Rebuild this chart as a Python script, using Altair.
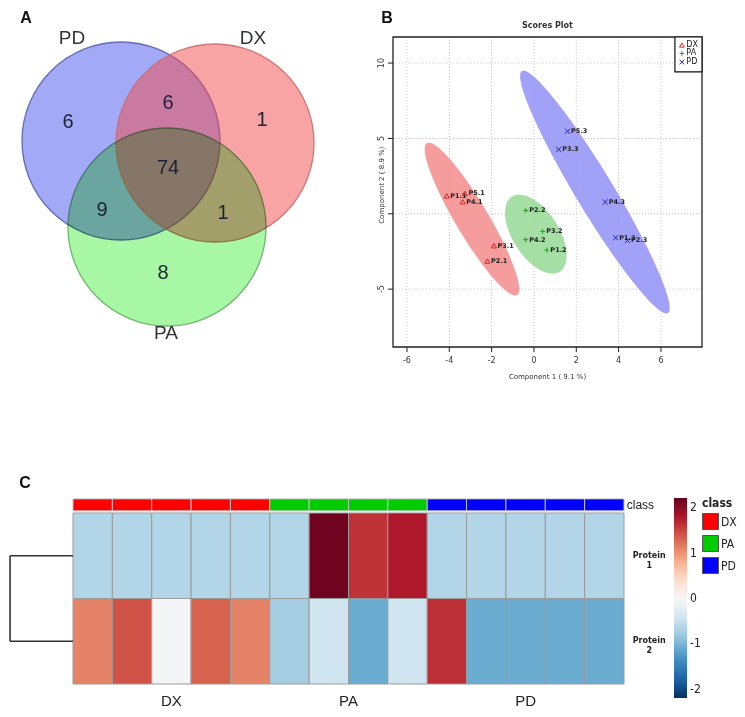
import altair as alt
import numpy as np
import pandas as pd

# ---------------- Panel A : Venn diagram ----------------
venn_sets = ["PD", "DX", "PA"]
venn_cx = [1.01, 1.95, 1.47]
venn_cy = [1.00, 1.02, 1.86]
venn_label_x = [0.52, 2.33, 1.46]
venn_label_y = [-0.03, -0.03, 2.92]
venn_counts = ["6", "6", "1", "74", "9", "1", "8"]
venn_count_x = [0.48, 1.48, 2.42, 1.48, 0.82, 2.03, 1.43]
venn_count_y = [0.81, 0.62, 0.79, 1.27, 1.69, 1.72, 2.32]

# ---------------- Panel B : PLS-DA scores plot ----------------
samples = ["P1.1", "P5.1", "P4.1", "P3.1", "P2.1",
           "P2.2", "P3.2", "P4.2", "P1.2",
           "P5.3", "P3.3", "P4.3", "P1.3", "P2.3"]
groups = ["DX"] * 5 + ["PA"] * 4 + ["PD"] * 5
comp1 = [-4.12, -3.26, -3.37, -1.89, -2.20,
         -0.39, 0.41, -0.39, 0.61,
         1.59, 1.17, 3.37, 3.86, 4.42]
comp2 = [1.19, 1.35, 0.80, -2.12, -3.14,
         0.22, -1.17, -1.72, -2.41,
         5.47, 4.27, 0.78, -1.59, -1.77]
ell_group = ["DX", "PA", "PD"]
ell_cx = [-2.93, 0.09, 2.88]
ell_cy = [-0.35, -1.35, 1.44]
ell_ax = [-2.13, 1.13, 3.45]
ell_ay = [5.04, -2.49, -8.03]
ell_bx = [0.67, 0.92, 0.77]
ell_by = [0.56, 0.82, 0.65]
xb_ticks = [-6, -4, -2, 0, 2, 4, 6]
yb_ticks = [-5, 0, 5, 10]
yb_tick_labels = ["-5", "", "5", "10"]
xb_domain = [-6.66, 7.94]
yb_domain = [-8.84, 11.73]
legend_b_rows = [11.19, 10.64, 10.07]

# ---------------- Panel C : heatmap ----------------
hm_class = ["DX"] * 5 + ["PA"] * 4 + ["PD"] * 5
protein1 = [-0.66, -0.66, -0.66, -0.66, -0.66,
            -0.66, 2.15, 1.60, 1.78,
            -0.66, -0.66, -0.66, -0.66, -0.66]
protein2 = [1.10, 1.40, -0.05, 1.30, 1.10,
            -0.75, -0.44, -1.10, -0.44,
            1.62, -1.10, -1.10, -1.10, -1.10]
protein_labels = ["Protein\n1", "Protein\n2"]
class_names = ["DX", "PA", "PD"]
class_label_col = [2.5, 7.0, 11.5]
dendro_merge = -1.6
colorbar_ticks = [-2, -1, 0, 1, 2]
rdbu = ["#053061", "#2166ac", "#4393c3", "#92c5de", "#d1e5f0", "#f7f7f7",
        "#fddbc7", "#f4a582", "#d6604d", "#b2182b", "#67001f"]

FONT = "Liberation Sans"
NARROW = "Liberation Sans Narrow, DejaVu Sans Condensed, Liberation Sans"


def qx(field, scale):
    return alt.X(field, type="quantitative", scale=scale, axis=None)


def qy(field, scale):
    return alt.Y(field, type="quantitative", scale=scale, axis=None)


# ======== Panel A ========
vxs = alt.Scale(domain=[0, 3], range=[12, 312], nice=False, zero=False)
vys = alt.Scale(domain=[0, 3], range=[33, 333], nice=False, zero=False)
venn_df = pd.DataFrame({"set": venn_sets, "cx": venn_cx, "cy": venn_cy,
                        "lx": venn_label_x, "ly": venn_label_y})
cnt_df = pd.DataFrame({"n": venn_counts, "x": venn_count_x, "y": venn_count_y})

fill_scale = alt.Scale(domain=venn_sets, range=["#4656f0", "#f24a4a", "#a8f7a4"])
stroke_scale = alt.Scale(domain=venn_sets, range=["#5561a8", "#cf6b6b", "#62b062"])

circles_pd_dx = alt.Chart(venn_df).transform_filter(
    alt.FieldOneOfPredicate(field="set", oneOf=["PD", "DX"])
).mark_point(
    shape="circle", filled=True, size=39204, fillOpacity=0.5,
    strokeWidth=1.3, strokeOpacity=0.9
).encode(
    x=qx("cx", vxs), y=qy("cy", vys),
    fill=alt.Fill("set:N", scale=fill_scale, legend=None),
    stroke=alt.Stroke("set:N", scale=stroke_scale, legend=None),
)
circle_pa = alt.Chart(venn_df).transform_filter(
    alt.FieldEqualPredicate(field="set", equal="PA")
).mark_point(
    shape="circle", filled=True, size=39204, fillOpacity=1, blend="multiply",
    strokeWidth=1.3, strokeOpacity=0.9
).encode(
    x=qx("cx", vxs), y=qy("cy", vys),
    fill=alt.Fill("set:N", scale=fill_scale, legend=None),
    stroke=alt.Stroke("set:N", scale=stroke_scale, legend=None),
)
set_labels = alt.Chart(venn_df).mark_text(fontSize=19, font=FONT, color="#333333").encode(
    x=qx("lx", vxs), y=qy("ly", vys), text="set:N")
count_labels = alt.Chart(cnt_df).mark_text(fontSize=20, font=FONT, color="#1c2233").encode(
    x=qx("x", vxs), y=qy("y", vys), text="n:N")
panel_a = alt.layer(circles_pd_dx, circle_pa, set_labels, count_labels)

# ======== Panel B ========
xbs = alt.Scale(domain=xb_domain, range=[385, 694], nice=False, zero=False)
ybs = alt.Scale(domain=yb_domain, range=[339, 29], nice=False, zero=False)

pts_df = pd.DataFrame({"sample": samples, "group": groups, "c1": comp1, "c2": comp2})

ell_rows = []
s = np.linspace(0, np.pi, 181)
for g, cx, cy, ax, ay, bx, by in zip(ell_group, ell_cx, ell_cy, ell_ax, ell_ay, ell_bx, ell_by):
    rx = np.hypot(ax, bx)
    phi = np.arctan2(bx, ax)
    t1 = phi + s
    t2 = phi - s
    xs = cx + rx * np.cos(s)
    y1 = cy + ay * np.cos(t1) + by * np.sin(t1)
    y2 = cy + ay * np.cos(t2) + by * np.sin(t2)
    for a, b, c in zip(xs, y1, y2):
        ell_rows.append({"group": g, "x": a, "y1": b, "y2": c})
ell_df = pd.DataFrame(ell_rows)

frame_df = pd.DataFrame({"x0": [xb_domain[0]], "x1": [xb_domain[1]],
                         "y0": [yb_domain[0]], "y1": [yb_domain[1]]})
xt_df = pd.DataFrame({"v": xb_ticks, "y0": yb_domain[0], "y1": yb_domain[1],
                      "lab": [str(v) for v in xb_ticks]})
yt_df = pd.DataFrame({"v": yb_ticks, "x0": xb_domain[0], "x1": xb_domain[1],
                      "lab": yb_tick_labels})
xmid = (xb_domain[0] + xb_domain[1]) / 2
ymid_title = 1.9
btext_df = pd.DataFrame({
    "x": [xmid, xmid],
    "y": [yb_domain[1], yb_domain[0]],
    "t": ["Scores Plot", "Component 1 ( 9.1 %)"],
})

shape_rng = ["triangle-up", "M-1,0L1,0M0,-1L0,1", "M-1,-1L1,1M-1,1L1,-1"]
pt_color = alt.Scale(domain=ell_group, range=["#dd2222", "#22a022", "#22229a"])
pt_shape = alt.Scale(domain=ell_group, range=shape_rng)

grid_x = alt.Chart(xt_df).mark_rule(color="#c8c8c8", strokeDash=[1, 2], strokeWidth=1).encode(
    x=qx("v", xbs), y=qy("y0", ybs), y2="y1")
grid_y = alt.Chart(yt_df).mark_rule(color="#c8c8c8", strokeDash=[1, 2], strokeWidth=1).encode(
    y=qy("v", ybs), x=qx("x0", xbs), x2="x1")
ellipses = alt.Chart(ell_df).mark_area(opacity=0.9).encode(
    x=qx("x", xbs), y=qy("y1", ybs), y2="y2",
    fill=alt.Fill("group:N", scale=alt.Scale(domain=ell_group,
                  range=["#f49292", "#9cdb9c", "#9797f6"]), legend=None),
    detail="group:N",
)
frame = alt.Chart(frame_df).mark_rect(fill=None, stroke="#222222", strokeWidth=1.3).encode(
    x=qx("x0", xbs), x2="x1", y=qy("y0", ybs), y2="y1")
xticks = alt.Chart(xt_df).mark_rule(color="#222222", strokeWidth=1, y2Offset=5).encode(
    x=qx("v", xbs), y=qy("y0", ybs), y2="y0")
yticks = alt.Chart(yt_df).mark_rule(color="#222222", strokeWidth=1, x2Offset=-5).encode(
    y=qy("v", ybs), x=qx("x0", xbs), x2="x0")
xlabels = alt.Chart(xt_df).mark_text(fontSize=8, font="DejaVu Sans", color="#333333",
                                     yOffset=14).encode(
    x=qx("v", xbs), y=qy("y0", ybs), text="lab:N")
ylabels = alt.Chart(yt_df).mark_text(fontSize=8, font="DejaVu Sans", color="#333333",
                                     xOffset=-11, angle=270).encode(
    y=qy("v", ybs), x=qx("x0", xbs), text="lab:N")
title_b = alt.Chart(btext_df.iloc[[0]]).mark_text(fontSize=8, font="DejaVu Sans",
                                                   fontWeight="bold", color="#333333",
                                                   yOffset=-11).encode(
    x=qx("x", xbs), y=qy("y", ybs), text="t:N")
xtitle_b = alt.Chart(btext_df.iloc[[1]]).mark_text(fontSize=7, font="DejaVu Sans",
                                                    color="#333333", yOffset=30).encode(
    x=qx("x", xbs), y=qy("y", ybs), text="t:N")
ytitle_b = alt.Chart(pd.DataFrame({"x": [xb_domain[0]], "y": [ymid_title],
                                   "t": ["Component 2 ( 8.9 %)"]})).mark_text(
    fontSize=7, font="DejaVu Sans", color="#333333", angle=270, xOffset=-11).encode(
    x=qx("x", xbs), y=qy("y", ybs), text="t:N")

points = alt.Chart(pts_df).mark_point(filled=False, size=26, strokeWidth=1, opacity=1).encode(
    x=qx("c1", xbs), y=qy("c2", ybs),
    color=alt.Color("group:N", scale=pt_color, legend=None),
    shape=alt.Shape("group:N", scale=pt_shape, legend=None),
)
pt_labels = alt.Chart(pts_df).mark_text(fontSize=6.5, font="DejaVu Sans", fontWeight="bold",
                                        color="#222222", align="left", dx=3.5).encode(
    x=qx("c1", xbs), y=qy("c2", ybs), text="sample:N")

# legend of panel B (box, symbols, labels)
leg_box_df = pd.DataFrame({"x0": [6.66], "x1": [xb_domain[1]], "y0": [9.42], "y1": [yb_domain[1]]})
leg_df = pd.DataFrame({"group": ell_group, "y": legend_b_rows, "xs": 6.99, "xl": 7.2})
leg_box = alt.Chart(leg_box_df).mark_rect(fill="white", stroke="#111111", strokeWidth=1.2).encode(
    x=qx("x0", xbs), x2="x1", y=qy("y0", ybs), y2="y1")
leg_sym = alt.Chart(leg_df).mark_point(filled=False, size=22, strokeWidth=1, opacity=1).encode(
    x=qx("xs", xbs), y=qy("y", ybs),
    color=alt.Color("group:N", scale=pt_color, legend=None),
    shape=alt.Shape("group:N", scale=pt_shape, legend=None),
)
leg_lab = alt.Chart(leg_df).mark_text(fontSize=8, font="DejaVu Sans", color="#222222",
                                      align="left").encode(
    x=qx("xl", xbs), y=qy("y", ybs), text="group:N")

panel_b = alt.layer(grid_x, grid_y, ellipses, frame, xticks, yticks, xlabels, ylabels,
                    title_b, xtitle_b, ytitle_b, points, pt_labels, leg_box, leg_sym, leg_lab)

# ======== Panel C ========
hxs = alt.Scale(domain=[0, 14], range=[65, 616], nice=False, zero=False)
hys = alt.Scale(domain=[0, 2], range=[505, 676], nice=False, zero=False)

cells = []
for r, vals in enumerate([protein1, protein2]):
    for i, v in enumerate(vals):
        cells.append({"c0": i, "c1": i + 1, "r0": r, "r1": r + 1, "value": v})
cell_df = pd.DataFrame(cells)
cls_df = pd.DataFrame({"c0": list(range(14)), "c1": list(range(1, 15)),
                       "r0": -0.165, "r1": -0.025, "cls": hm_class})

heat_domain = [round(v, 4) for v in np.linspace(-2.2, 2.2, len(rdbu))]
heat = alt.Chart(cell_df).mark_rect(stroke="#9a9a9a", strokeWidth=1).encode(
    x=qx("c0", hxs), x2="c1", y=qy("r0", hys), y2="r1",
    fill=alt.Fill("value:Q",
                  scale=alt.Scale(domain=heat_domain, range=rdbu, interpolate="rgb"),
                  legend=alt.Legend(orient="none", legendX=666, legendY=490, title=None,
                                    direction="vertical", gradientLength=200,
                                    gradientThickness=13, values=colorbar_ticks,
                                    labelExpr="'' + datum.value",
                                    labelFontSize=12, labelFont=NARROW, labelOffset=3,
                                    labelColor="#222222", padding=0)),
)
classbar = alt.Chart(cls_df).mark_rect(stroke="#c0c0c0", strokeWidth=1).encode(
    x=qx("c0", hxs), x2="c1", y=qy("r0", hys), y2="r1",
    color=alt.Color("cls:N", scale=alt.Scale(domain=class_names,
                    range=["#ff0000", "#00cc00", "#0000ff"]),
                    legend=alt.Legend(orient="none", legendX=694, legendY=490,
                                      title="class", titleFontSize=12, titleFont=NARROW,
                                      titleFontWeight="bold", titleColor="#222222",
                                      titlePadding=3, symbolType="square",
                                      symbolSize=256, symbolStrokeColor="#555555",
                                      symbolStrokeWidth=1, symbolOpacity=1,
                                      labelFontSize=12, labelFont=NARROW,
                                      labelColor="#222222", rowPadding=1, padding=0,
                                      labelOffset=2)),
)
dendro_h = pd.DataFrame({"x0": [dendro_merge, dendro_merge], "x1": [0, 0], "y": [0.5, 1.5]})
dendro_v = pd.DataFrame({"x": [dendro_merge], "y0": [0.5], "y1": [1.5]})
d_h = alt.Chart(dendro_h).mark_rule(color="#333333", strokeWidth=1.6).encode(
    x=qx("x0", hxs), x2="x1", y=qy("y", hys))
d_v = alt.Chart(dendro_v).mark_rule(color="#333333", strokeWidth=1.6).encode(
    x=qx("x", hxs), y=qy("y0", hys), y2="y1")
row_lab_df = pd.DataFrame({"x": [14.64, 14.64], "y": [0.5, 1.5], "t": protein_labels})
row_labels = alt.Chart(row_lab_df).mark_text(fontSize=8, font="DejaVu Sans",
                                             fontWeight="bold", color="#222222",
                                             lineBreak="\n", lineHeight=10).encode(
    x=qx("x", hxs), y=qy("y", hys), text="t:N")
col_lab_df = pd.DataFrame({"x": class_label_col, "y": [2.2] * 3, "t": class_names})
col_labels = alt.Chart(col_lab_df).mark_text(fontSize=15, font=FONT, color="#222222").encode(
    x=qx("x", hxs), y=qy("y", hys), text="t:N")
cls_lab = alt.Chart(pd.DataFrame({"x": [14.07], "y": [-0.095], "t": ["class"]})).mark_text(
    fontSize=12, font=FONT, color="#222222", align="left").encode(
    x=qx("x", hxs), y=qy("y", hys), text="t:N")

panel_c = alt.layer(heat, classbar, d_h, d_v, row_labels, col_labels, cls_lab)

# ======== panel letters ========
letters = alt.layer(
    alt.Chart(pd.DataFrame({"t": ["A"]})).mark_text(fontSize=16, fontWeight="bold", font=FONT,
                                                   color="#111111").encode(
        x=alt.value(18), y=alt.value(10), text="t:N"),
    alt.Chart(pd.DataFrame({"t": ["B"]})).mark_text(fontSize=16, fontWeight="bold", font=FONT,
                                                   color="#111111").encode(
        x=alt.value(379), y=alt.value(10), text="t:N"),
    alt.Chart(pd.DataFrame({"t": ["C"]})).mark_text(fontSize=16, fontWeight="bold", font=FONT,
                                                   color="#111111").encode(
        x=alt.value(17), y=alt.value(475), text="t:N"),
)

chart = alt.layer(panel_a, panel_b, panel_c, letters).resolve_scale(
    x="independent", y="independent", color="independent", fill="independent",
    stroke="independent", shape="independent"
).properties(
    width=729, height=701, padding=0,
    autosize=alt.AutoSizeParams(type="none"),
).configure_view(strokeWidth=0)

chart.save("out.html", embed_options={"renderer": "svg", "actions": False})
